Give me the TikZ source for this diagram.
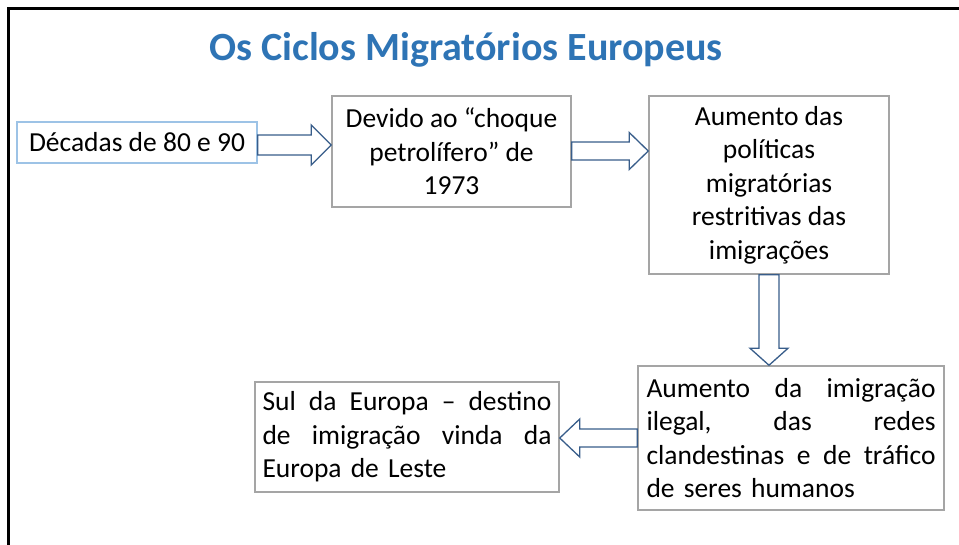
\documentclass[tikz,border=0pt]{standalone}
\usepackage{fontspec}
\setmainfont{Carlito}
\usetikzlibrary{calc}
\definecolor{titleblue}{RGB}{46,116,181}
\definecolor{lightblueborder}{RGB}{157,195,230}
\definecolor{boxgray}{RGB}{165,165,165}
\definecolor{arrowblue}{RGB}{56,93,138}
\newcommand{\myblockarrow}[5]{%
  \coordinate (ahb) at ($(#2)!#5!(#1)$);
  \draw[barrow] ($(#1)!#3!90:(#2)$) -- ($(ahb)!#3!-90:(#1)$) -- ($(ahb)!#4!-90:(#1)$)
    -- (#2) -- ($(ahb)!#4!90:(#1)$) -- ($(ahb)!#3!90:(#1)$) -- ($(#1)!#3!-90:(#2)$) -- cycle;
}
\newcommand{\jline}[1]{\leavevmode\hbox to 289pt{#1}}
\begin{document}
\begin{tikzpicture}[x=1pt,y=-1pt,
  txt/.style={font=\fontsize{27.5}{33.5}\selectfont, text=black},
  graybox/.style={txt, draw=boxgray, line width=1.5pt, fill=white, inner sep=0pt},
  bluebox/.style={txt, draw=lightblueborder, line width=1.5pt, fill=white, inner sep=0pt},
  barrow/.style={draw=arrowblue, line width=1.3pt, fill=white, line join=miter},
  frame/.style={line width=3pt, draw=black}
]
\useasboundingbox (0,0) rectangle (959,544);
\draw[frame] (960,8) -- (8,8) -- (8,545);

\node[anchor=base, font=\fontsize{40}{48}\selectfont\bfseries, text=titleblue] (title) at (466,60) {Os Ciclos Migratórios Europeus};

\node[bluebox, minimum width=240pt, minimum height=41pt] (b1) at (137,142.5) {Décadas de 80 e 90};
\node[graybox, minimum width=239pt, minimum height=111pt, align=center] (b2) at (451.5,151.5)
  {Devido ao “choque\\petrolífero” de\\1973};
\node[graybox, minimum width=240pt, minimum height=178pt, align=center] (b3) at (769,185)
  {Aumento das\\políticas\\migratórias\\restritivas das\\imigrações};
\node[graybox, minimum width=306pt, minimum height=144pt, text width=289pt, align=left] (b4) at (791,438)
  {\jline{Aumento\hfill da\hfill imigração}\\\jline{ilegal,\hfill das\hfill redes}\\\jline{clandestinas\hfill e\hfill de\hfill tráfico}\\de seres humanos};
\node[graybox, minimum width=304pt, minimum height=110pt, text width=289pt, align=left] (b5) at (407,437)
  {\jline{Sul\hfill da\hfill Europa\hfill –\hfill destino}\\\jline{de\hfill imigração\hfill vinda\hfill da}\\Europa de Leste};

\coordinate (a1s) at (b1.east |- 0,145);
\coordinate (a1e) at (b2.west |- 0,145);
\coordinate (a2s) at (b2.east |- 0,151);
\coordinate (a2e) at (b3.west |- 0,151);
\coordinate (a3s) at (b3.south);
\coordinate (a3e) at (b4.north -| b3.south);
\coordinate (a4s) at (b4.west |- 0,438);
\coordinate (a4e) at (b5.east |- 0,438);

\myblockarrow{a1s}{a1e}{10pt}{20pt}{20pt}
\myblockarrow{a2s}{a2e}{9pt}{18.5pt}{19pt}
\myblockarrow{a3s}{a3e}{10pt}{19pt}{17pt}
\myblockarrow{a4s}{a4e}{9pt}{19pt}{20pt}
\end{tikzpicture}
\end{document}
